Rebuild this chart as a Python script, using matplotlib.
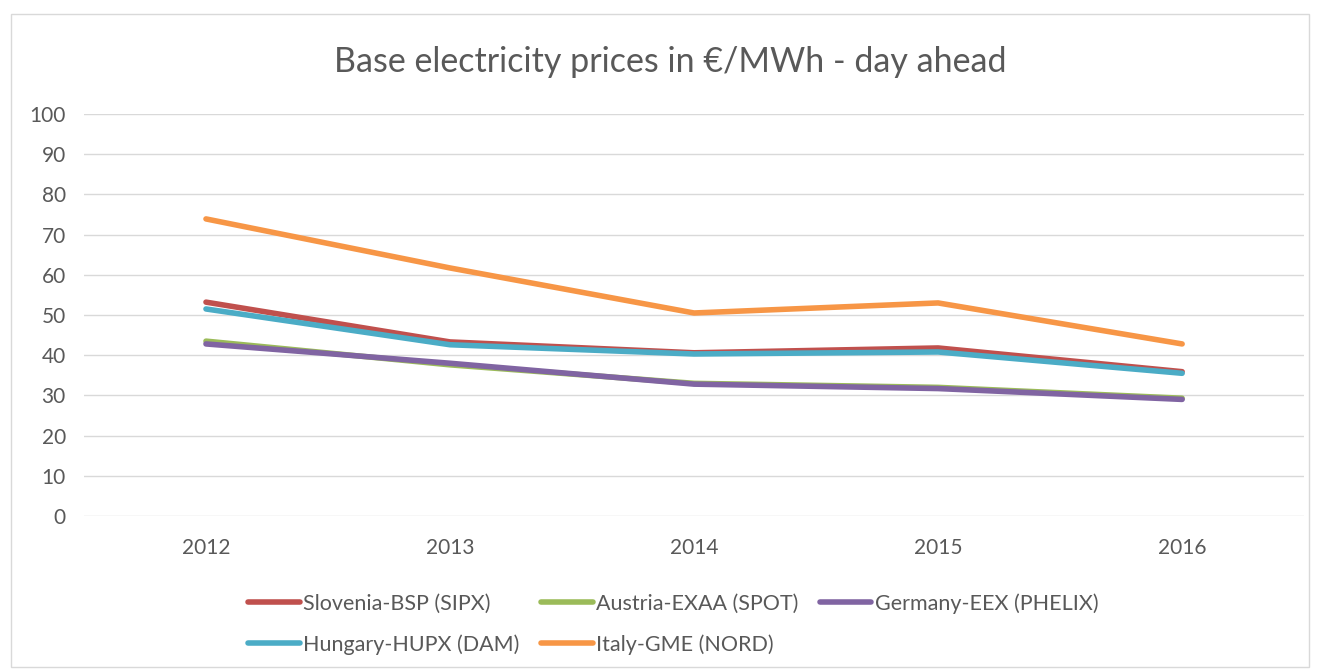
import numpy as np
import matplotlib.pyplot as plt
from matplotlib.patches import Rectangle

plt.rcParams['font.family'] = ['Lato', 'DejaVu Sans']

years = ['2012', '2013', '2014', '2015', '2016']
slovenia = [53.2, 43.3, 40.6, 41.8, 35.9]
austria = [43.5, 37.6, 33.0, 32.0, 29.3]
germany = [42.8, 38.0, 32.8, 31.7, 29.0]
hungary = [51.5, 42.6, 40.3, 40.8, 35.5]
italy = [73.9, 61.7, 50.5, 53.0, 42.8]

names = ['Slovenia-BSP (SIPX)', 'Austria-EXAA (SPOT)', 'Germany-EEX (PHELIX)',
         'Hungary-HUPX (DAM)', 'Italy-GME (NORD)']
colors = ['#C0504D', '#9BBB59', '#8064A2', '#4BACC6', '#F79646']
series = [slovenia, austria, germany, hungary, italy]

fig = plt.figure(figsize=(13.2, 6.69), dpi=100)
fig.patches.append(Rectangle((0.008, 0.003), 0.984, 0.976, transform=fig.transFigure,
                             fill=False, edgecolor='#D9D9D9', lw=1))
ax = fig.add_axes([0.0636, 0.2287, 0.9244, 0.6009])

x = np.arange(len(years))
lines = []
for vals, name, c in zip(series, names, colors):
    ln, = ax.plot(x, vals, color=c, lw=4, solid_capstyle='round',
                  solid_joinstyle='round', label=name)
    lines.append(ln)

ax.set_xlim(-0.5, 4.5)
ax.set_ylim(0, 100)
ax.set_yticks(range(0, 101, 10))
ax.set_xticks(x)
ax.set_xticklabels(years)
ax.grid(axis='y', color='#D9D9D9', lw=1)
ax.set_axisbelow(True)
for s in ax.spines.values():
    s.set_visible(False)
ax.tick_params(length=0, labelsize=15, colors='#595959')
ax.tick_params(axis='x', pad=16)
ax.tick_params(axis='y', pad=13)

fig.text(0.508, 0.907, 'Base electricity prices in €/MWh - day ahead',
         ha='center', va='center', fontsize=24.5, color='#595959')

# reorder so the 3-column legend reads row by row
order = [0, 3, 1, 4, 2]
fig.legend([lines[i] for i in order], [names[i] for i in order], ncol=3,
           loc='center', bbox_to_anchor=(0.51, 0.067), frameon=False,
           fontsize=15.5, labelcolor='#595959', handlelength=2.4,
           handletextpad=0.15, columnspacing=1.0, labelspacing=0.95)

fig.savefig('out.png', dpi=100)
